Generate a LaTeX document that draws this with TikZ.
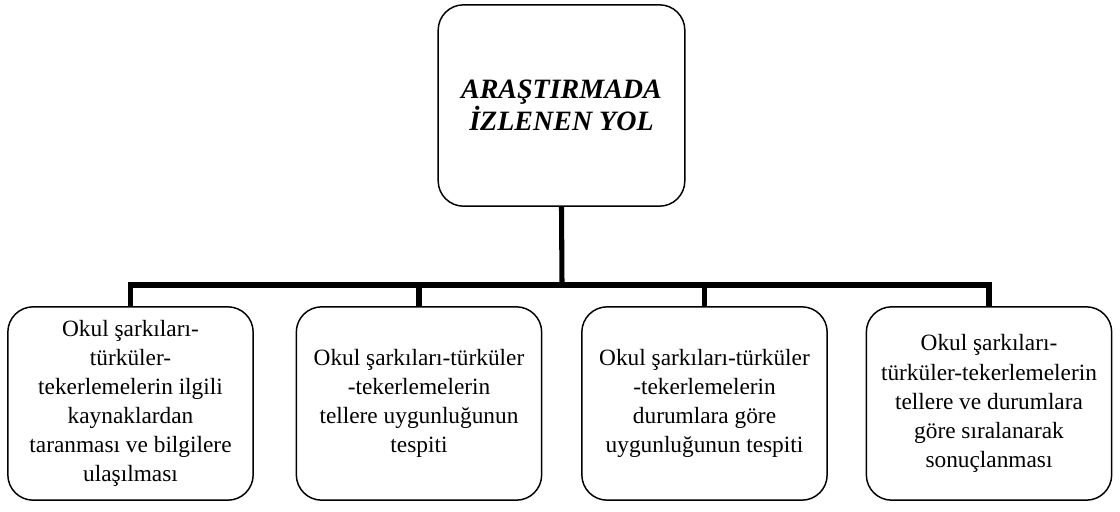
\documentclass[tikz,border=0pt]{standalone}
\usepackage{fontspec}
\setmainfont{Liberation Serif}
\begin{document}
\begin{tikzpicture}[x=0.75pt,y=-0.75pt,
  box/.style={draw,line width=1.1pt,rounded corners=19pt,align=center,
    minimum width=184pt,minimum height=145pt,inner sep=0pt,
    font=\fontsize{17.5}{21.8}\selectfont},
  topbox/.style={draw,line width=1.1pt,rounded corners=19pt,align=center,
    minimum width=185pt,minimum height=151pt,inner sep=0pt,
    font=\fontsize{21}{24}\selectfont\bfseries\itshape},
  bus/.style={line width=3.8pt,line join=miter}]
\useasboundingbox (0,0) rectangle (1120,511);
\node[topbox] (top) at (561.5,105.5) {ARAŞTIRMADA\\İZLENEN YOL};
\node[box] (b1) at (130.5,403.5) {Okul şarkıları-\\türküler-\\tekerlemelerin ilgili\\kaynaklardan\\taranması ve bilgilere\\ulaşılması};
\node[box] (b2) at (419,403.5) {Okul şarkıları-türküler\\-tekerlemelerin\\tellere uygunluğunun\\tespiti};
\node[box] (b3) at (704.5,403.5) {Okul şarkıları-türküler\\-tekerlemelerin\\durumlara göre\\uygunluğunun tespiti};
\node[box] (b4) at (989,403.5) {Okul şarkıları-\\türküler-tekerlemelerin\\tellere ve durumlara\\göre sıralanarak\\sonuçlanması};
\coordinate (bar) at (562,285);
\draw[bus] (b1.north) |- (bar) -| (b4.north);
\draw[bus] (top.south) -- (bar);
\draw[bus] (b2.north) -- (b2.north |- bar);
\draw[bus] (b3.north) -- (b3.north |- bar);
\end{tikzpicture}
\end{document}
